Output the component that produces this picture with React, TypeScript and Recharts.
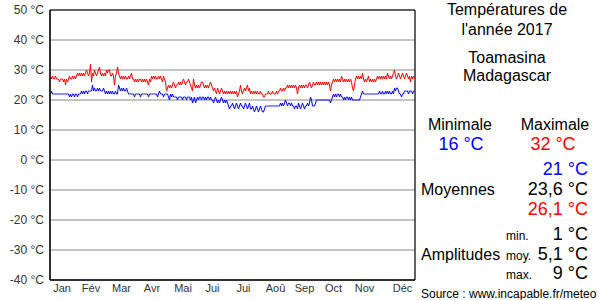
import { LineChart, Line, XAxis, YAxis, CartesianGrid, ReferenceArea } from "recharts";

// daily temperatures 2017, Toamasina (°C)
const maxByMonth: number[][] = [
  [28, 27, 28, 27, 27, 28, 27, 27, 27, 26, 27, 27, 27, 26, 27, 25, 27, 26, 27, 28, 27, 27, 28, 27, 28, 27, 28, 29, 28, 29, 28],
  [29, 28, 29, 28, 29, 30, 29, 28, 29, 32, 26, 29, 28, 30, 29, 28, 29, 30, 31, 29, 28, 29, 28, 29, 28, 30, 29, 30],
  [30, 28, 28, 29, 28, 25, 28, 29, 31, 29, 28, 27, 28, 27, 28, 27, 28, 27, 27, 28, 27, 28, 29, 27, 27, 26, 27, 26, 27, 26, 27],
  [27, 26, 27, 26, 27, 26, 27, 26, 25, 27, 26, 28, 27, 28, 27, 28, 27, 27, 28, 27, 28, 27, 26, 28, 27, 26, 23, 24, 25, 24],
  [25, 24, 25, 26, 25, 24, 25, 25, 26, 25, 26, 25, 26, 27, 26, 25, 26, 26, 27, 26, 25, 24, 23, 27, 25, 24, 25, 24, 25, 24, 25],
  [26, 26, 25, 24, 25, 24, 25, 24, 25, 26, 25, 24, 23, 24, 23, 22, 24, 23, 22, 23, 24, 23, 22, 23, 22, 23, 22, 23, 22, 23],
  [22, 23, 22, 23, 22, 23, 21, 22, 23, 25, 23, 22, 23, 24, 23, 24, 25, 23, 24, 22, 23, 22, 23, 22, 23, 22, 23, 22, 22, 23, 22],
  [22, 21, 21, 22, 22, 22, 23, 22, 22, 22, 23, 22, 22, 22, 23, 22, 23, 23, 24, 23, 23, 24, 23, 24, 24, 25, 24, 25, 24, 25, 24],
  [25, 24, 25, 24, 22, 24, 25, 24, 25, 24, 25, 24, 25, 25, 24, 25, 26, 25, 24, 25, 26, 25, 25, 26, 25, 26, 25, 26, 25, 26],
  [25, 26, 25, 26, 25, 26, 25, 23, 25, 26, 27, 26, 27, 26, 27, 26, 27, 26, 28, 27, 26, 27, 26, 27, 26, 27, 26, 27, 26, 24, 23],
  [25, 27, 28, 27, 28, 27, 28, 27, 29, 27, 26, 27, 26, 27, 28, 26, 27, 26, 27, 26, 27, 26, 27, 28, 27, 28, 27, 28, 27, 28],
  [27, 28, 27, 29, 28, 27, 28, 27, 28, 29, 30, 28, 27, 28, 29, 28, 27, 28, 29, 28, 27, 28, 29, 28, 27, 28, 26, 28, 27, 28, 27],
];

const minByMonth: number[][] = [
  [22, 23, 22, 22, 22, 22, 22, 22, 22, 22, 22, 22, 22, 22, 22, 22, 22, 22, 22, 21, 22, 21, 22, 22, 21, 22, 22, 21, 22, 22, 22],
  [23, 22, 23, 22, 23, 23, 22, 23, 23, 23, 23, 25, 23, 24, 23, 23, 24, 23, 24, 23, 23, 23, 24, 23, 22, 23, 22, 23],
  [22, 23, 22, 23, 22, 22, 23, 22, 22, 25, 24, 23, 24, 23, 24, 23, 23, 24, 23, 22, 22, 22, 22, 22, 22, 21, 22, 22, 22, 22, 22],
  [21, 22, 22, 22, 22, 22, 22, 22, 21, 22, 22, 22, 22, 22, 22, 22, 22, 21, 22, 23, 22, 22, 22, 21, 22, 22, 22, 22, 21, 20],
  [22, 21, 22, 21, 21, 21, 21, 20, 21, 21, 21, 21, 20, 21, 21, 21, 20, 21, 21, 21, 20, 21, 19, 20, 21, 19, 20, 21, 20, 21, 21],
  [20, 21, 21, 20, 21, 20, 21, 21, 20, 21, 20, 20, 19, 20, 21, 20, 19, 20, 19, 20, 21, 20, 19, 20, 19, 20, 19, 18, 17, 18],
  [18, 19, 18, 17, 18, 19, 18, 17, 18, 19, 18, 18, 17, 18, 19, 18, 17, 18, 19, 17, 17, 18, 17, 16, 17, 18, 17, 16, 17, 18, 17],
  [16, 16, 17, 18, 18, 18, 18, 18, 18, 18, 18, 18, 18, 18, 18, 18, 18, 18, 19, 18, 19, 18, 19, 20, 19, 18, 19, 19, 18, 19, 18],
  [18, 17, 18, 18, 17, 19, 18, 17, 18, 19, 18, 17, 18, 18, 19, 18, 19, 21, 20, 18, 18, 18, 19, 20, 20, 20, 20, 20, 20, 20],
  [20, 20, 20, 20, 20, 20, 20, 19, 20, 21, 22, 21, 22, 21, 22, 22, 21, 22, 21, 21, 20, 21, 20, 21, 21, 20, 21, 20, 21, 20, 20],
  [20, 20, 20, 20, 20, 20, 21, 22, 23, 22, 22, 22, 22, 22, 22, 22, 22, 22, 22, 22, 22, 22, 22, 22, 22, 23, 22, 22, 23, 22],
  [22, 23, 22, 23, 22, 23, 22, 22, 23, 22, 24, 23, 24, 24, 23, 22, 22, 21, 22, 22, 23, 23, 23, 23, 22, 23, 23, 23, 22, 23, 23],
];

const months = ["Jan", "Fév", "Mar", "Avr", "Mai", "Jui", "Jui", "Aoû", "Sep", "Oct", "Nov", "Déc"];
const monthDays = [31, 28, 31, 30, 31, 30, 31, 31, 30, 31, 30, 31];
// where each month name sits, in days from 1 Jan
const labelDays = [12, 41, 71.5, 102, 133, 162.5, 193.5, 225.5, 254.5, 283.5, 314.5, 352.5];
const tempTicks = [-40, -30, -20, -10, 0, 10, 20, 30, 40, 50];

const maxTemps = maxByMonth.flat();
const minTemps = minByMonth.flat();

const monthStarts: number[] = [0];
monthDays.forEach((d, i) => monthStarts.push(monthStarts[i] + d));

const data = maxTemps.map((v, i) => ({ day: i + 0.5, max: v, min: minTemps[i] }));

const FONT = "'Liberation Sans', Arial, sans-serif";

function SidePanel() {
  const c = 507;
  return (
    <svg width={600} height={300} style={{ position: "absolute", left: 0, top: 0 }} fontFamily={FONT}>
      <text x={c} y={15} fontSize={16} textAnchor="middle">Températures de</text>
      <text x={c} y={34.5} fontSize={16} textAnchor="middle">l'année 2017</text>
      <text x={c} y={62.5} fontSize={16} textAnchor="middle">Toamasina</text>
      <text x={c} y={81} fontSize={16} textAnchor="middle">Madagascar</text>

      <text x={460} y={130} fontSize={16} textAnchor="middle">Minimale</text>
      <text x={555} y={130} fontSize={16} textAnchor="middle">Maximale</text>
      <text x={461} y={150} fontSize={18} textAnchor="middle" fill="#0000ff">16 °C</text>
      <text x={553} y={150} fontSize={18} textAnchor="middle" fill="#ff0000">32 °C</text>

      <text x={588} y={175} fontSize={18} textAnchor="end" fill="#0000ff">21 °C</text>
      <text x={421} y={195} fontSize={16}>Moyennes</text>
      <text x={588} y={195} fontSize={18} textAnchor="end">23,6 °C</text>
      <text x={588} y={215} fontSize={18} textAnchor="end" fill="#ff0000">26,1 °C</text>

      <text x={506} y={240} fontSize={12}>min.</text>
      <text x={588} y={240} fontSize={18} textAnchor="end">1 °C</text>
      <text x={421} y={259.5} fontSize={16}>Amplitudes</text>
      <text x={506} y={260} fontSize={12}>moy.</text>
      <text x={588} y={260} fontSize={18} textAnchor="end">5,1 °C</text>
      <text x={506} y={279} fontSize={12}>max.</text>
      <text x={588} y={279} fontSize={18} textAnchor="end">9 °C</text>

      <text x={421} y={298} fontSize={12}>Source : www.incapable.fr/meteo</text>
    </svg>
  );
}

export default function App() {
  return (
    <div style={{ position: "absolute", left: 0, top: 0, width: 600, height: 300, background: "#fff" }}>
      <LineChart width={600} height={300} data={data} margin={{ top: 10, right: 185, bottom: 0, left: 0 }}>
        <CartesianGrid xAxisId="grid" yAxisId="t" stroke="#888" strokeWidth={1} />
        <XAxis
          xAxisId="grid"
          type="number"
          dataKey="day"
          domain={[0, 365]}
          ticks={monthStarts}
          tick={false}
          tickLine={false}
          axisLine={false}
          height={0}
        />
        <XAxis
          xAxisId="lab"
          type="number"
          dataKey="day"
          domain={[0, 365]}
          ticks={labelDays}
          interval={0}
          tickFormatter={(v: number) => months[labelDays.indexOf(v)] ?? ""}
          tickLine={false}
          axisLine={{ stroke: "#000" }}
          tickSize={2}
          tickMargin={2}
          height={20}
          tick={{ fontSize: 11, fill: "#333", fontFamily: "'Liberation Sans Narrow', " + FONT }}
        />
        <YAxis
          yAxisId="t"
          type="number"
          domain={[-40, 50]}
          ticks={tempTicks}
          interval={0}
          width={50}
          tickLine={false}
          axisLine={{ stroke: "#000" }}
          tickSize={4}
          tickMargin={2}
          tickFormatter={(v: number) => `${v} °C`}
          tick={{ fontSize: 12, fill: "#333", fontFamily: FONT }}
        />
        <ReferenceArea xAxisId="lab" yAxisId="t" x1={0} x2={365} y1={-40} y2={50} fill="none" stroke="#000" strokeWidth={1} />
        <Line xAxisId="lab" yAxisId="t" type="linear" dataKey="max" stroke="#ff0000" strokeWidth={1} dot={false} isAnimationActive={false} />
        <Line xAxisId="lab" yAxisId="t" type="linear" dataKey="min" stroke="#0000ff" strokeWidth={1} dot={false} isAnimationActive={false} />
      </LineChart>
      <SidePanel />
    </div>
  );
}
